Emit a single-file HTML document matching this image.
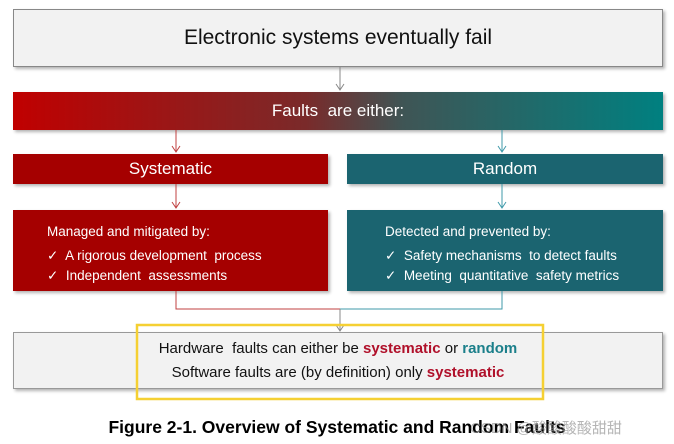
<!DOCTYPE html>
<html><head><style>
body{margin:0;width:674px;height:444px;background:#fff;position:relative;font-family:"Liberation Sans",sans-serif;overflow:hidden}
.b{position:absolute;box-sizing:border-box;box-shadow:2px 2px 3px rgba(0,0,0,.3)}
.c{display:flex;align-items:center;justify-content:center;text-align:center}
.red{background:#a50000;color:#fff}
.teal{background:#1b6470;color:#fff}
.list{padding:12px 0 0 34px;font-size:13.5px;line-height:20px}
.list div:first-child{margin-bottom:4px}
</style></head><body>
<div class="b c" style="left:13px;top:9px;width:650px;height:58px;background:#f2f2f2;border:1px solid #888;font-size:21px;color:#111">Electronic systems eventually fail</div>
<div class="b c" style="left:13px;top:92px;width:650px;height:38px;background:linear-gradient(90deg,#c00000,#7a2a2a 45%,#3f5555 60%,#008080);color:#fff;font-size:17px">Faults&nbsp; are either:</div>
<div class="b c red" style="left:13px;top:154px;width:315px;height:30px;font-size:17px">Systematic</div>
<div class="b c teal" style="left:347px;top:154px;width:316px;height:30px;font-size:17px">Random</div>
<div class="b red list" style="left:13px;top:210px;width:315px;height:81px"><div>Managed and mitigated by:</div><div>✓&nbsp; A rigorous development&nbsp; process</div><div>✓&nbsp; Independent&nbsp; assessments</div></div>
<div class="b teal list" style="left:347px;top:210px;width:316px;height:81px;padding-left:38px"><div>Detected and prevented by:</div><div>✓&nbsp; Safety mechanisms&nbsp; to detect faults</div><div>✓&nbsp; Meeting&nbsp; quantitative&nbsp; safety metrics</div></div>
<div class="b c" style="left:13px;top:332px;width:650px;height:57px;background:#f2f2f2;border:1px solid #999;font-size:15px;color:#111;line-height:24px;flex-direction:column">
<div>Hardware&nbsp; faults can either be <b style="color:#b0102a">systematic</b> or <b style="color:#1b7f8a">random</b></div>
<div>Software faults are (by definition) only <b style="color:#b0102a">systematic</b></div></div>
<svg width="674" height="444" style="position:absolute;left:0;top:0" fill="none">
<g stroke="#888"><path d="M340 67V90M336 84l4 6 4-6"/></g>
<g stroke="#c04040"><path d="M176 130V152M172 146l4 6 4-6M176 184V208M172 202l4 6 4-6M176 291V309H340"/></g>
<g stroke="#3f9aaa"><path d="M502 130V152M498 146l4 6 4-6M502 184V208M498 202l4 6 4-6M502 291V309H340"/></g>
<g stroke="#888"><path d="M340 309V331M336 325l4 6 4-6"/></g>
<rect x="137" y="325" width="406" height="74" stroke="#f5d033" stroke-width="2.5"/>
</svg>
<div style="position:absolute;left:0;width:674px;top:417px;text-align:center;font-weight:bold;font-size:17.5px;color:#000">Figure 2-1. Overview of Systematic and Random Faults</div>
<div style="position:absolute;left:470px;top:417px;font-size:15px;color:rgba(150,150,150,.7);font-family:'Liberation Sans','Noto Sans CJK SC',sans-serif">CSDN @酸酸酸酸甜甜</div>
</body></html>
